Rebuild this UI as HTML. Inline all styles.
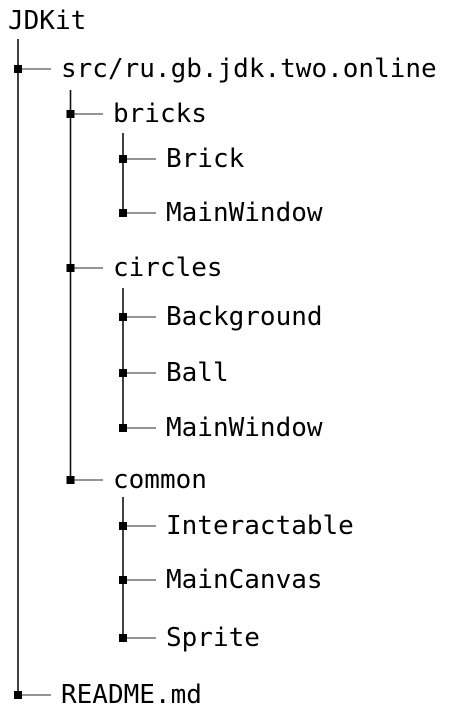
<!DOCTYPE html>
<html><head><meta charset="utf-8"><style>
html,body{margin:0;padding:0;background:#fff;width:454px;height:715px;overflow:hidden}
text{font-family:"DejaVu Sans Mono","Liberation Mono",monospace;font-size:26px;fill:#000;dominant-baseline:central}
</style></head><body>
<svg width="454" height="715" xmlns="http://www.w3.org/2000/svg">
<g stroke="#111" stroke-width="1.6">
<line x1="18" y1="39" x2="18" y2="695"/>
<line x1="70.5" y1="90" x2="70.5" y2="480"/>
<line x1="123" y1="133" x2="123" y2="213"/>
<line x1="123" y1="288" x2="123" y2="428"/>
<line x1="123" y1="497" x2="123" y2="638"/>
</g>
<g stroke="#555" stroke-width="1.2">
<line x1="18" y1="69" x2="51" y2="69"/>
<line x1="18" y1="695" x2="51" y2="695"/>
<line x1="70.5" y1="114" x2="103" y2="114"/>
<line x1="70.5" y1="268" x2="103" y2="268"/>
<line x1="70.5" y1="480" x2="103" y2="480"/>
<line x1="123" y1="159" x2="156" y2="159"/>
<line x1="123" y1="213" x2="156" y2="213"/>
<line x1="123" y1="317" x2="156" y2="317"/>
<line x1="123" y1="373" x2="156" y2="373"/>
<line x1="123" y1="428" x2="156" y2="428"/>
<line x1="123" y1="526" x2="156" y2="526"/>
<line x1="123" y1="580" x2="156" y2="580"/>
<line x1="123" y1="638" x2="156" y2="638"/>
</g>
<g fill="#000">
<rect x="14" y="65" width="8" height="8"/>
<rect x="14" y="691" width="8" height="8"/>
<rect x="66.5" y="110" width="8" height="8"/>
<rect x="66.5" y="264" width="8" height="8"/>
<rect x="66.5" y="476" width="8" height="8"/>
<rect x="119" y="155" width="8" height="8"/>
<rect x="119" y="209" width="8" height="8"/>
<rect x="119" y="313" width="8" height="8"/>
<rect x="119" y="369" width="8" height="8"/>
<rect x="119" y="424" width="8" height="8"/>
<rect x="119" y="522" width="8" height="8"/>
<rect x="119" y="576" width="8" height="8"/>
<rect x="119" y="634" width="8" height="8"/>
</g>
<text x="8" y="21">JDKit</text>
<text x="61" y="69">src/ru.gb.jdk.two.online</text>
<text x="113" y="114">bricks</text>
<text x="166" y="159">Brick</text>
<text x="166" y="213">MainWindow</text>
<text x="113" y="268">circles</text>
<text x="166" y="317">Background</text>
<text x="166" y="373">Ball</text>
<text x="166" y="428">MainWindow</text>
<text x="113" y="480">common</text>
<text x="166" y="526">Interactable</text>
<text x="166" y="580">MainCanvas</text>
<text x="166" y="638">Sprite</text>
<text x="61" y="695">README.md</text>
</svg>
</body></html>
